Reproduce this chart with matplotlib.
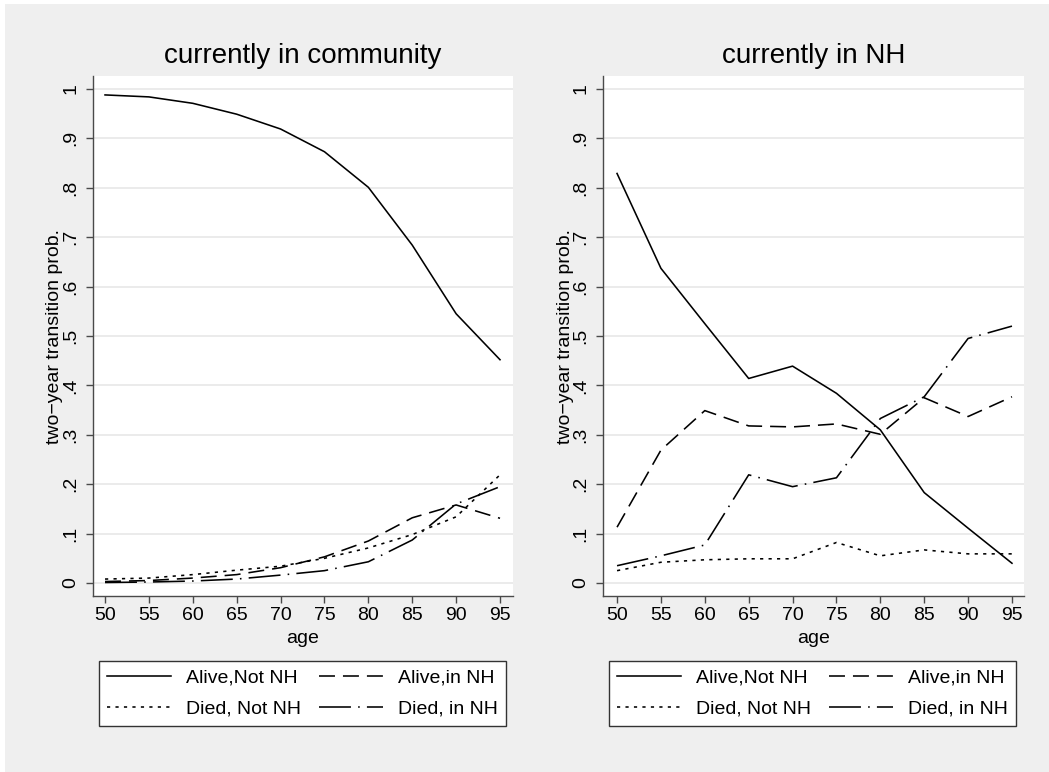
import matplotlib
matplotlib.use("Agg")
import matplotlib.pyplot as plt
from matplotlib.patches import Rectangle

# Two-year transition probabilities by age and current residence
ages = [50, 55, 60, 65, 70, 75, 80, 85, 90, 95]

comm_alive_not_nh = [0.988, 0.984, 0.971, 0.949, 0.919, 0.873, 0.801, 0.684, 0.545, 0.452]
comm_alive_in_nh = [0.003, 0.005, 0.010, 0.017, 0.031, 0.053, 0.085, 0.132, 0.158, 0.131]
comm_died_not_nh = [0.008, 0.010, 0.017, 0.026, 0.034, 0.050, 0.071, 0.098, 0.134, 0.219]
comm_died_in_nh = [0.001, 0.002, 0.004, 0.008, 0.016, 0.025, 0.043, 0.087, 0.160, 0.195]

nh_alive_not_nh = [0.829, 0.637, 0.525, 0.414, 0.439, 0.384, 0.310, 0.183, 0.111, 0.040]
nh_alive_in_nh = [0.113, 0.269, 0.349, 0.318, 0.316, 0.322, 0.301, 0.375, 0.337, 0.377]
nh_died_not_nh = [0.025, 0.042, 0.047, 0.049, 0.049, 0.082, 0.055, 0.067, 0.059, 0.059]
nh_died_in_nh = [0.035, 0.055, 0.077, 0.219, 0.195, 0.213, 0.333, 0.377, 0.495, 0.520]

series_labels = ["Alive,Not NH", "Alive,in NH", "Died, Not NH", "Died, in NH"]
panel_titles = ["currently in community", "currently in NH"]
y_ticks = [0, 0.1, 0.2, 0.3, 0.4, 0.5, 0.6, 0.7, 0.8, 0.9, 1.0]
y_tick_labels = ["0", ".1", ".2", ".3", ".4", ".5", ".6", ".7", ".8", ".9", "1"]

LINE_STYLES = [
    "-",
    (0, (10, 5)),
    (0, (2, 3.3)),
    (0, (20, 4.5, 1, 4.5)),
]
BG = "#efefef"
SPINE = "#4a4a4a"

plt.rcParams["font.family"] = ["Liberation Sans", "DejaVu Sans"]

W, H = 1049, 772
fig = plt.figure(figsize=(W / 100, H / 100), dpi=100, facecolor="white")
fig.patches.append(Rectangle((5 / W, 0), 1 - 5 / W, 1 - 4 / H,
                             transform=fig.transFigure, facecolor=BG,
                             edgecolor="none", zorder=-10))


def px_axes(x0, x1, y0, y1):
    return fig.add_axes([x0 / W, 1 - y1 / H, (x1 - x0) / W, (y1 - y0) / H])


panels = [
    (px_axes(93, 513, 76, 596), (48.63, 96.48),
     [comm_alive_not_nh, comm_alive_in_nh, comm_died_not_nh, comm_died_in_nh]),
    (px_axes(603, 1024, 76, 596), (48.4, 96.37),
     [nh_alive_not_nh, nh_alive_in_nh, nh_died_not_nh, nh_died_in_nh]),
]

for (ax, xlim, series), title in zip(panels, panel_titles):
    ax.set_facecolor("white")
    lines = []
    for values, ls, label in zip(series, LINE_STYLES, series_labels):
        ln, = ax.plot(ages, values, color="black", linewidth=1.15,
                      linestyle=ls, label=label)
        lines.append(ln)

    ax.set_xlim(*xlim)
    ax.set_ylim(-0.0263, 1.0263)
    ax.set_xticks(ages)
    ax.set_yticks(y_ticks)
    ax.set_yticklabels(y_tick_labels)
    ax.grid(axis="y", color="#e6e6e6", linewidth=1.1)
    ax.set_axisbelow(True)

    for side in ["top", "right"]:
        ax.spines[side].set_visible(False)
    for side in ["left", "bottom"]:
        ax.spines[side].set_color(SPINE)
        ax.spines[side].set_linewidth(1.0)

    ax.tick_params(axis="both", length=5, width=1.0, color=SPINE,
                   labelsize=14)
    ax.tick_params(axis="y", pad=5, labelrotation=90)
    ax.tick_params(axis="x", pad=3)
    for lab in ax.get_yticklabels():
        lab.set_va("center")

    ax.set_title(title, fontsize=20, pad=9.4)
    ax.set_xlabel("age", fontsize=14, labelpad=4)
    ax.set_ylabel("two\u2212year transition prob.", fontsize=14)
    ax.yaxis.set_label_coords(-38 / ax.bbox.width, 0.5)
    ax.yaxis.label.set_va("center")

    # legend filled row by row: Alive pair on top, Died pair below
    order = [0, 2, 1, 3]
    x_span = ax.bbox.width
    leg = ax.legend([lines[i] for i in order],
                    [series_labels[i] for i in order],
                    loc="upper left", ncol=2,
                    bbox_to_anchor=(6 / x_span, -65 / ax.bbox.height),
                    borderaxespad=0, fontsize=14, handlelength=3.3,
                    handletextpad=0.77, labelspacing=0.7, borderpad=0.42,
                    columnspacing=0.9, fancybox=False, frameon=True)
    frame = leg.get_frame()
    frame.set_facecolor("white")
    frame.set_edgecolor("#333333")
    frame.set_linewidth(1.0)
    frame.set_alpha(1)

fig.savefig("out.png", dpi=100, facecolor=fig.get_facecolor())
